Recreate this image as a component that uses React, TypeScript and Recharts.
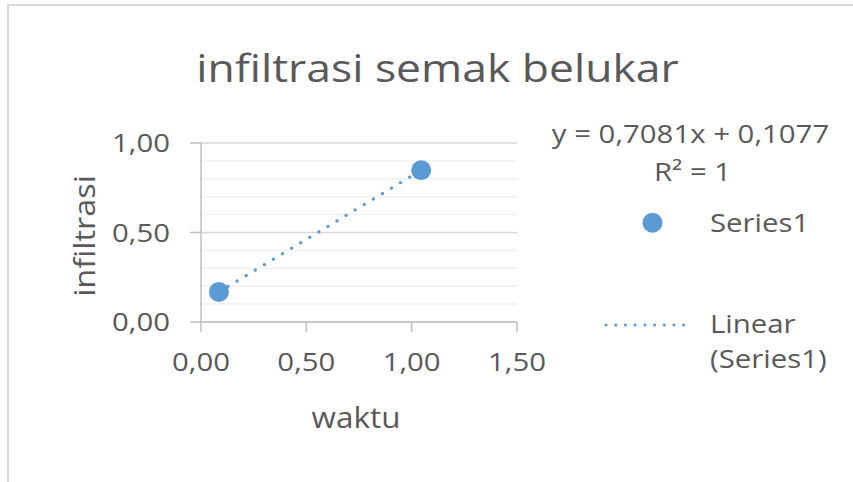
import { CartesianGrid, ReferenceLine, Scatter, ScatterChart, XAxis, YAxis } from "recharts";

// measured points (waktu, infiltrasi)
const waktu = [0.085, 1.045];
const infiltrasi = [0.168, 0.848];
const slope = 0.7081;
const intercept = 0.1077;

const xTicks = [0, 0.5, 1, 1.5];
const yTicks = [0, 0.5, 1];
const yMinor = [0.1, 0.2, 0.3, 0.4, 0.6, 0.7, 0.8, 0.9];

const points = waktu.map((x, i) => ({ x, y: infiltrasi[i] }));
// trendline spans the data range
const trend = [waktu[0], waktu[waktu.length - 1]].map((x) => ({ x, y: slope * x + intercept }));

const BLUE = "#5b9bd5";
const TEXT = "#595959";
const AXIS = "#bfbfbf";
const FONT = "'Open Sans', sans-serif";
const SX = 1.13; // excel text runs a bit wider than Open Sans

const fmt = (v: number) => v.toFixed(2).replace(".", ",");

const Dot = (props: any) => <circle cx={props.cx} cy={props.cy} r={10} fill={BLUE} />;
const None = () => <g />;

// text stretched horizontally around its anchor point
function Txt({ x, y, size, anchor = "start", sx = SX, rotate = 0, dy, children }: any) {
  return (
    <text
      transform={`translate(${x},${y}) rotate(${rotate}) scale(${sx},1)`}
      fontSize={size}
      fontFamily={FONT}
      fill={TEXT}
      textAnchor={anchor}
      dy={dy}
    >
      {children}
    </text>
  );
}

const XTick = (p: any) => (
  <Txt x={p.x} y={p.y} size={26} anchor="middle" dy="0.71em">
    {fmt(p.payload.value)}
  </Txt>
);
const YTick = (p: any) => (
  <Txt x={p.x} y={p.y} size={26} anchor="end" dy="0.355em">
    {fmt(p.payload.value)}
  </Txt>
);

export default function App() {
  return (
    <div style={{ position: "absolute", left: 0, top: 0, width: 853, height: 482, background: "#fff" }}>
      <div
        style={{
          position: "absolute",
          left: 7,
          top: 4,
          width: 846,
          height: 478,
          borderTop: "2px solid #d9d9d9",
          borderLeft: "2px solid #d9d9d9",
        }}
      />
      <ScatterChart width={853} height={482} margin={{ top: 143, right: 336, bottom: 100, left: 141 }}>
        <CartesianGrid vertical={false} stroke="#d9d9d9" strokeWidth={1.5} />
        {yMinor.map((v) => (
          <ReferenceLine key={v} y={v} stroke="#f0f0f0" strokeWidth={1.5} />
        ))}
        <XAxis
          type="number"
          dataKey="x"
          domain={[0, 1.5]}
          ticks={xTicks}
          height={60}
          stroke={AXIS}
          strokeWidth={1.5}
          tickSize={10}
          tickMargin={21}
          tick={XTick}
          allowDataOverflow
        />
        <YAxis
          type="number"
          dataKey="y"
          domain={[0, 1]}
          ticks={yTicks}
          width={60}
          stroke={AXIS}
          strokeWidth={1.5}
          tickSize={11}
          tickMargin={20}
          tick={YTick}
          allowDataOverflow
        />
        <Scatter
          data={trend}
          shape={None}
          line={{ stroke: BLUE, strokeWidth: 3.2, strokeDasharray: "0.1 10.5", strokeLinecap: "round" }}
          isAnimationActive={false}
        />
        <Scatter data={points} shape={Dot} isAnimationActive={false} />
      </ScatterChart>
      <svg width={853} height={482} style={{ position: "absolute", left: 0, top: 0, pointerEvents: "none" }}>
        <Txt x={437.5} y={82} size={38} anchor="middle" sx={1.17}>
          infiltrasi semak belukar
        </Txt>
        <Txt x={356} y={428} size={30} anchor="middle" sx={1.05}>
          waktu
        </Txt>
        <Txt x={95} y={236} size={30} anchor="middle" rotate={-90} sx={1.08}>
          infiltrasi
        </Txt>
        <Txt x={690.5} y={143} size={26} anchor="middle">
          y = 0,7081x + 0,1077
        </Txt>
        <Txt x={692.5} y={181} size={26} anchor="middle">
          R² = 1
        </Txt>
        <circle cx={652.5} cy={222.7} r={10} fill={BLUE} />
        <Txt x={710} y={231.5} size={26}>
          Series1
        </Txt>
        <line
          x1={606}
          y1={325}
          x2={693}
          y2={325}
          stroke={BLUE}
          strokeWidth={3}
          strokeDasharray="0.1 9.6"
          strokeLinecap="round"
        />
        <Txt x={710} y={333} size={26}>
          Linear
        </Txt>
        <Txt x={710} y={368} size={26}>
          (Series1)
        </Txt>
      </svg>
    </div>
  );
}
